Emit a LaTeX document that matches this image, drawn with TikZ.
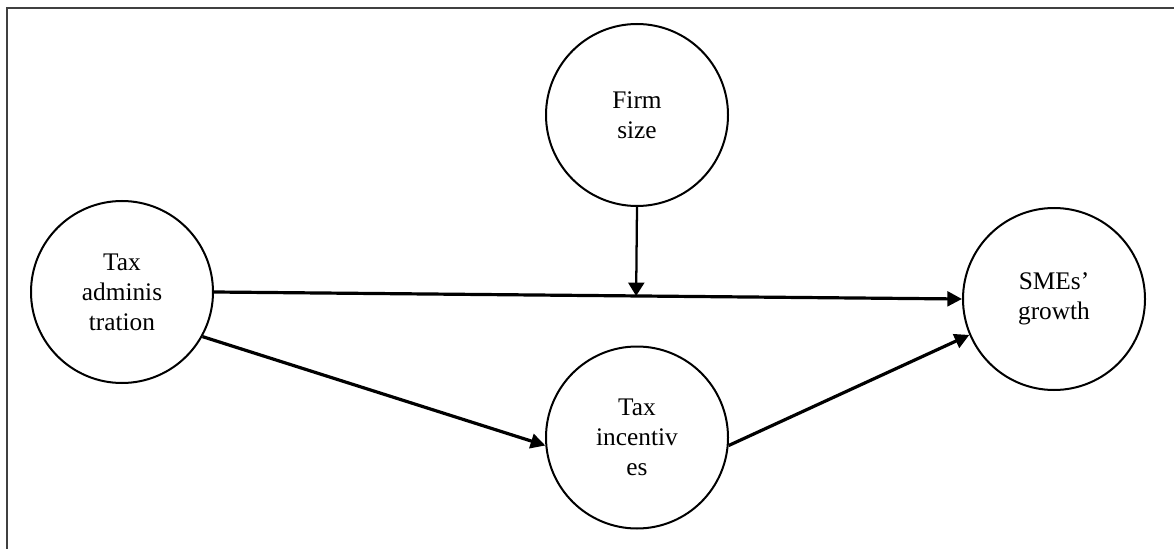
\documentclass[tikz,border=0pt]{standalone}
\usepackage{fontspec}
\setmainfont{Liberation Serif}
\usetikzlibrary{arrows.meta,calc}

\tikzset{
  var/.style={draw=black, line width=1.5pt, circle, minimum size=136.5pt,
    inner sep=0pt, align=center, font=\fontsize{19}{22.5}\selectfont},
  link/.style={line width=2.4pt, -{Triangle[length=11pt, width=11pt]}},
  moder/.style={line width=1.7pt, -{Triangle[length=10pt, width=12pt]}}
}

\begin{document}
\begin{tikzpicture}[x=0.75pt,y=-0.75pt]
\useasboundingbox (0,0) rectangle (1174,549);
\draw[black!75, line width=1.5pt] (7,549) -- (7,8) -- (1174,8);
\node[var] (tadm) at (122,292) {Tax\\adminis\\tration};
\node[var] (fsize) at (637,115) {Firm\\size};
\node[var] (tinc) at (637,437.5) {Tax\\incentiv\\es};
\node[var] (smes) at (1054,299) {SMEs'\\growth};
\coordinate (meet) at ($(tadm.east)!(fsize.south)!(smes.west)$);
\draw[link] (tadm.east) -- (smes.west);
\draw[moder] (fsize.south) -- (meet);
\draw[link] (tadm.-29) -- (tinc.185);
\draw[link] (tinc.-5) -- (smes.203);
\end{tikzpicture}
\end{document}
